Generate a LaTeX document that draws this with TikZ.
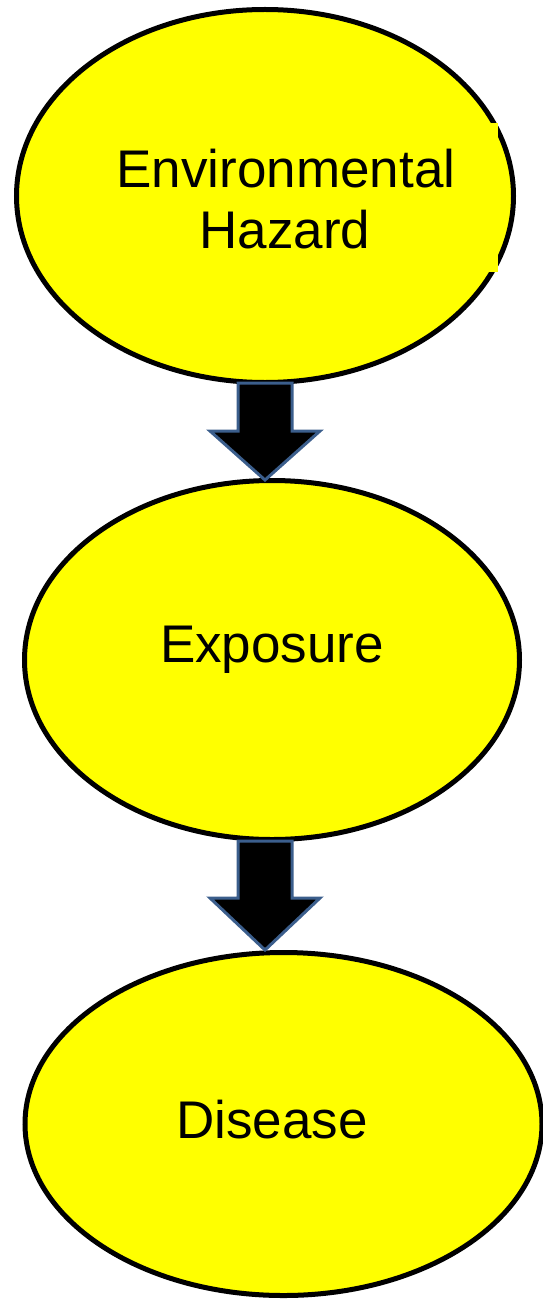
\documentclass[tikz,border=0pt]{standalone}
\usepackage{fontspec}
\setmainfont{Liberation Sans}
\usetikzlibrary{shapes.geometric}
\definecolor{hazy}{RGB}{255,255,0}
\definecolor{arrowedge}{RGB}{59,94,140}
\tikzset{
  bubble/.style={ellipse, draw=black, fill=hazy, line width=5pt, inner sep=0pt},
  label/.style={font=\fontsize{53}{61}\selectfont, align=center, inner sep=0pt},
  blockarrow/.style={fill=black, draw=arrowedge, line width=3pt, line join=miter}
}
\begin{document}
\begin{tikzpicture}[x=1pt,y=-1pt]
\useasboundingbox (0,0) rectangle (543,1300);
% ellipses
\node[bubble, minimum width=497pt, minimum height=373pt] (hazard) at (265,196) {};
\fill[hazy] (470,123) rectangle (497.5,272);
\node[bubble, minimum width=495pt, minimum height=359pt] (exposure) at (272,660) {};
\node[bubble, minimum width=517pt, minimum height=343pt] (disease) at (283.5,1124) {};
% labels
\node[label, anchor=base] (t1) at (286,187) {Environmental};
\node[label, anchor=base] (t2) at (285,248) {Hazard};
\node[label, anchor=base] (t3) at (272,662) {Exposure};
\node[label, anchor=base] (t4) at (272,1138) {Disease};
% arrows
\coordinate (a1) at (265,383);
\coordinate (a2) at (265,841);
\draw[blockarrow] ([xshift=-27pt]a1) -- ([xshift=27pt]a1) -- ([xshift=27pt,yshift=-48pt]a1)
  -- ([xshift=55pt,yshift=-48pt]a1) -- ([yshift=-97pt]a1) -- ([xshift=-55pt,yshift=-48pt]a1)
  -- ([xshift=-27pt,yshift=-48pt]a1) -- cycle;
\draw[blockarrow] ([xshift=-27pt]a2) -- ([xshift=27pt]a2) -- ([xshift=27pt,yshift=-57pt]a2)
  -- ([xshift=55pt,yshift=-57pt]a2) -- ([yshift=-109pt]a2) -- ([xshift=-55pt,yshift=-57pt]a2)
  -- ([xshift=-27pt,yshift=-57pt]a2) -- cycle;
\end{tikzpicture}
\end{document}
